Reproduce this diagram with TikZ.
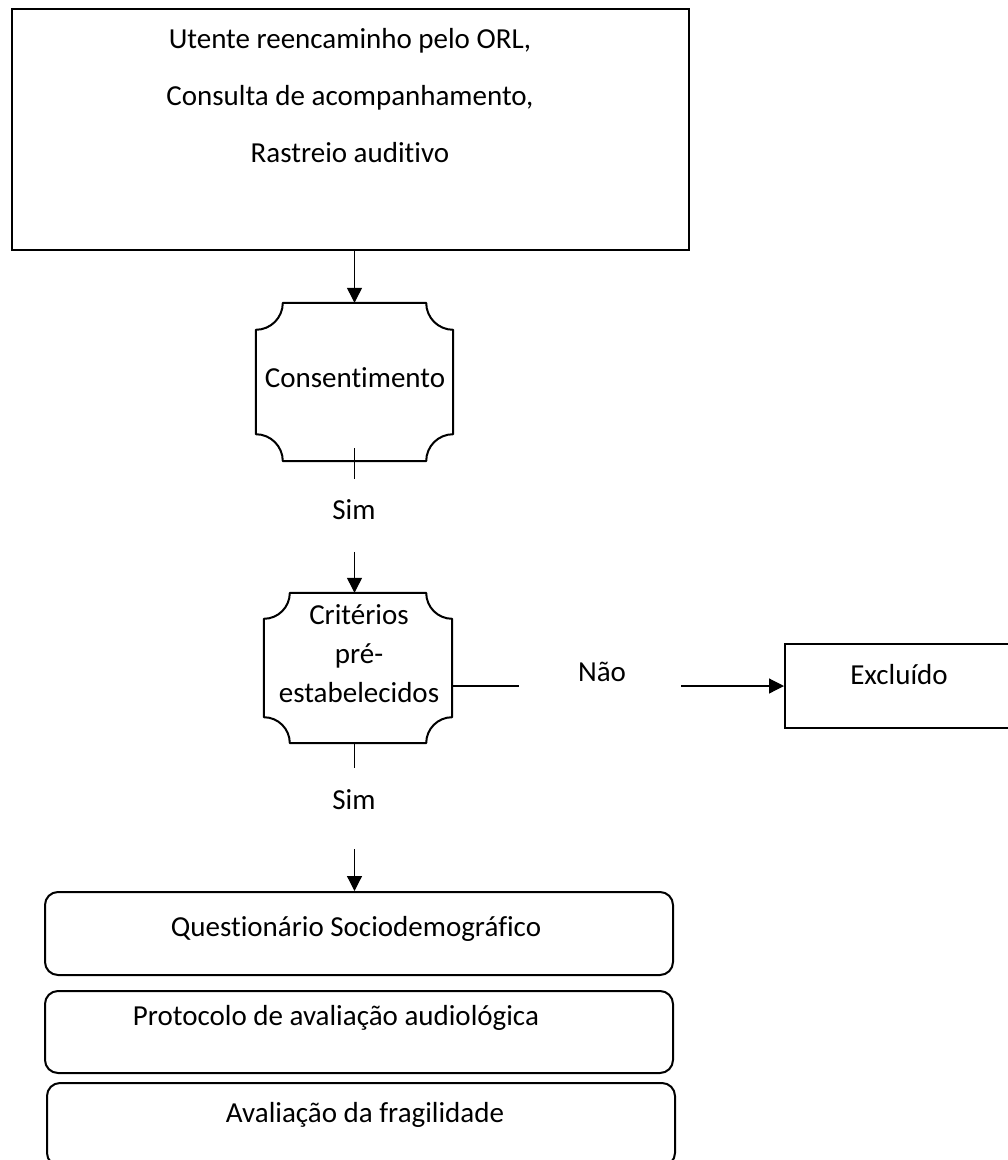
\documentclass[tikz,border=0pt]{standalone}
\usepackage{fontspec}
\setmainfont{Carlito}[Ligatures={NoCommon}]
\usetikzlibrary{arrows.meta}
\newcommand{\plaqueframe}[2]{%
  \draw[plqline] ([xshift=#2]#1.north west) -- ([xshift=-#2]#1.north east)
    arc[start angle=180,end angle=270,radius=#2]
    -- ([yshift=#2]#1.south east)
    arc[start angle=90,end angle=180,radius=#2]
    -- ([xshift=#2]#1.south west)
    arc[start angle=0,end angle=90,radius=#2]
    -- ([yshift=-#2]#1.north west)
    arc[start angle=270,end angle=360,radius=#2] -- cycle;}
\begin{document}
\begin{tikzpicture}[x=1pt,y=1pt,
  box/.style={draw, line width=2pt, inner sep=0pt},
  rbox/.style={draw, line width=2pt, rounded corners=13pt, inner sep=0pt},
  plq/.style={inner sep=0pt},
  plqline/.style={line width=2pt, line join=round},
  txt/.style={inner sep=0pt, font=\fontsize{29}{35}\selectfont},
  conn/.style={line width=1.2pt},
  arr/.style={line width=1.2pt, -{Triangle[length=15pt,width=15pt]}}]
\useasboundingbox (0,0) rectangle (1008,-1160);
\fill[white] (0,0) rectangle (1008,-1160);

% top box
\node[box, minimum width=677pt, minimum height=241pt] (top) at (350.5,-129.5) {};
\node[txt, align=center, font=\fontsize{29}{57}\selectfont] (toptext) at (350,-96)
  {Utente reencaminho pelo ORL,\\Consulta de acompanhamento,\\Rastreio auditivo};

% Consentimento
\node[plq, minimum width=197pt, minimum height=158pt] (consent) at (354.5,-382) {};
\plaqueframe{consent}{27pt}
\node[txt] (consenttext) at (355,-378) {Consentimento};

% Criterios
\node[plq, minimum width=188pt, minimum height=150pt] (crit) at (358,-668) {};
\plaqueframe{crit}{26pt}
\node[txt, align=center, font=\fontsize{29}{39}\selectfont] (crittext) at (359,-654)
  {Critérios\\pré-\\estabelecidos};

% Excluido
\node[box, minimum width=227pt, minimum height=84pt] (excl) at (898.5,-686) {};
\node[txt] (excltext) at (899,-675) {Excluído};

% bottom boxes
\node[rbox, minimum width=628pt, minimum height=83pt] (q1) at (359,-933.5) {};
\node[txt] (q1text) at (356,-929) {Questionário Sociodemográfico};
\node[rbox, minimum width=628pt, minimum height=82pt] (q2) at (359,-1032) {};
\node[txt] (q2text) at (336,-1018) {Protocolo de avaliação audiológica};
\node[rbox, minimum width=628pt, minimum height=83pt] (q3) at (361,-1124.5) {};
\node[txt] (q3text) at (365,-1115) {Avaliação da fragilidade};

% labels
\node[txt] (sim1) at (354,-510) {Sim};
\node[txt] (sim2) at (354,-800) {Sim};
\node[txt] (nao) at (602,-672) {Não};

% connectors
\draw[arr] (top.south -| consent.north) -- (consent.north);
\draw[conn] ([yshift=13pt]consent.south) -- ++(0,-31);
\draw[arr] ([yshift=41pt]crit.north -| consent.north) -- (crit.north -| consent.north);
\draw[conn] (crit.south -| consent.south) -- ++(0,-25);
\draw[conn] (crit.east |- excl.west) -- ++(67,0);
\draw[arr] ([xshift=-103pt]excl.west) -- (excl.west);
\draw[arr] ([yshift=42pt]q1.north -| consent.south) -- (q1.north -| consent.south);
\end{tikzpicture}
\end{document}
